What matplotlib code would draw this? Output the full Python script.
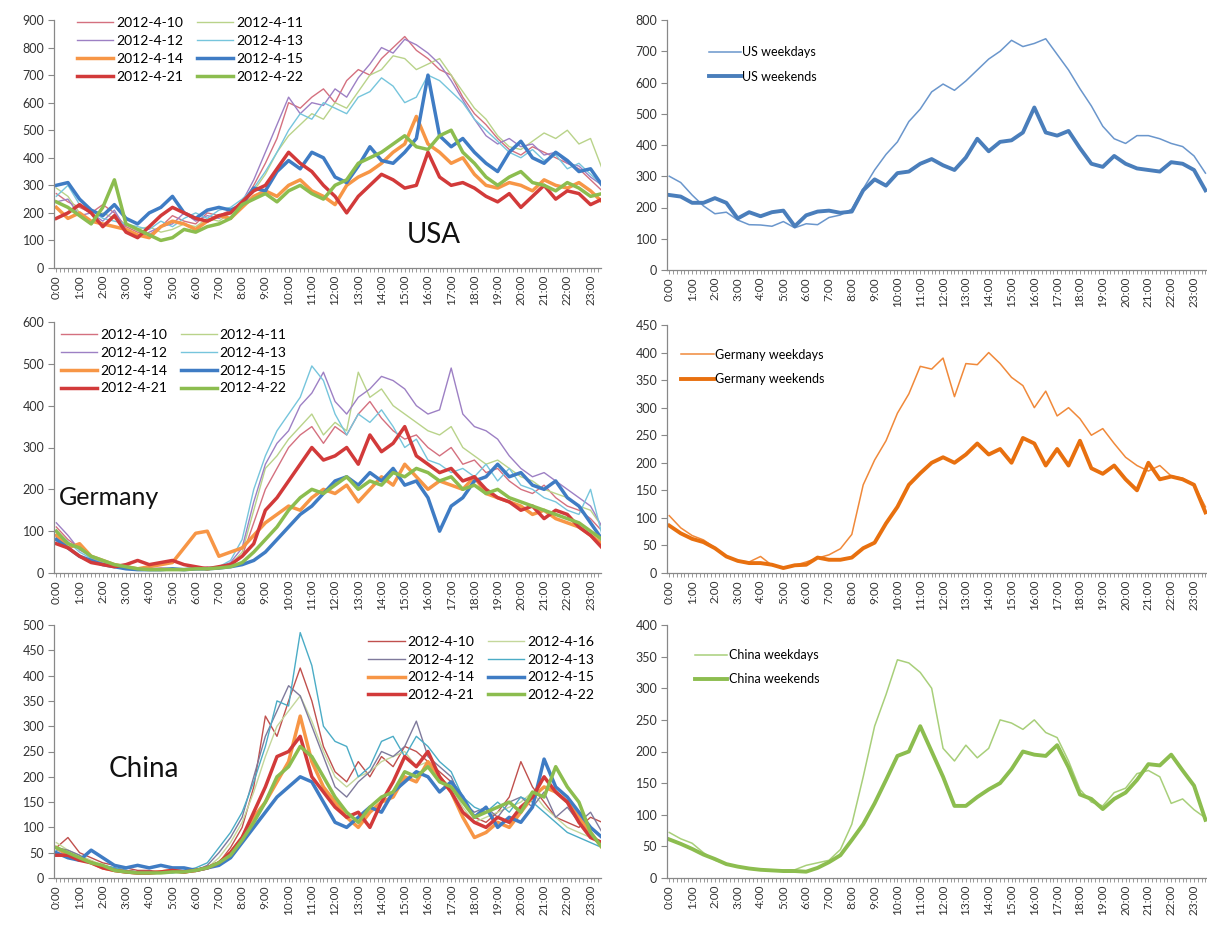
import numpy as np
import matplotlib
matplotlib.use("Agg")
import matplotlib.pyplot as plt
from matplotlib.ticker import MultipleLocator, FixedLocator

plt.rcParams['font.family'] = ['Lato', 'DejaVu Sans']

# ---------------- data (half-hourly samples, 0:00 .. 23:30) ----------------
hour_labels = [f"{h}:00" for h in range(24)]
samples_per_hour = 2

usa_dates = ["2012-4-10", "2012-4-11", "2012-4-12", "2012-4-13",
             "2012-4-14", "2012-4-15", "2012-4-21", "2012-4-22"]
usa_0410 = [270,240,220,200,230,200,150,130,120,150,190,170,160,200,190,210,230,300,380,470,600,580,620,650,
            600,680,720,700,760,800,840,790,760,720,700,620,560,520,470,430,410,440,420,400,380,360,320,280]
usa_0411 = [290,260,200,170,200,180,160,140,150,130,140,160,150,180,170,200,230,280,340,420,480,520,560,540,
            600,580,640,700,720,770,760,720,740,760,700,640,580,540,480,440,430,460,490,470,500,450,470,360]
usa_0412 = [240,250,190,200,170,210,140,110,130,150,160,200,170,190,180,200,240,320,420,520,620,560,600,590,
            650,620,690,740,800,780,830,810,780,740,680,610,540,480,450,470,440,450,410,420,380,370,330,300]
usa_0413 = [260,300,230,210,180,170,160,150,140,170,150,180,200,180,210,220,250,290,350,420,500,560,540,600,
            580,560,620,640,690,660,600,620,700,680,640,600,540,500,460,420,400,430,390,410,360,380,340,300]
usa_0414 = [220,180,200,170,160,150,140,120,110,150,170,160,140,170,190,180,220,260,280,260,300,320,280,260,
            230,300,330,350,380,420,450,550,450,420,380,400,340,300,290,310,300,280,320,300,290,310,280,240]
usa_0415 = [300,310,250,210,190,230,180,160,200,220,260,200,180,210,220,210,230,290,280,350,390,360,420,400,
            330,310,370,440,390,380,420,470,700,480,440,470,420,380,350,420,460,400,380,420,390,350,360,300]
usa_0421 = [180,200,230,200,150,190,130,110,150,190,220,200,180,170,190,200,240,280,300,360,420,380,350,300,
            260,200,260,300,340,320,290,300,420,330,300,310,290,260,240,270,220,260,300,250,280,270,230,250]
usa_0422 = [240,220,190,160,220,320,160,140,120,100,110,140,130,150,160,180,230,250,270,240,280,300,270,250,
            300,320,380,400,420,450,480,440,430,480,500,420,380,330,300,330,350,310,300,280,310,290,260,270]

ger_dates = usa_dates
ger_0410 = [110,80,60,40,30,20,15,10,10,12,10,8,10,15,10,20,40,120,200,250,300,330,350,310,
            350,330,380,410,370,340,320,330,300,280,300,260,270,240,250,220,200,190,210,180,160,150,130,100]
ger_0411 = [100,70,65,35,25,15,12,10,8,10,10,8,8,10,12,20,50,150,250,280,320,350,380,330,
            360,340,480,420,440,400,380,360,340,330,350,300,280,260,270,250,230,220,200,190,180,160,150,110]
ger_0412 = [120,90,55,40,30,20,12,10,10,8,10,10,12,10,15,25,60,170,260,310,340,400,430,480,
            410,380,420,440,470,460,440,400,380,390,490,380,350,340,320,280,250,230,240,220,200,180,160,110]
ger_0413 = [100,75,50,35,25,15,10,8,10,10,8,10,10,12,15,30,80,200,280,340,380,420,495,460,
            380,330,380,360,390,350,300,320,270,260,240,250,230,260,220,250,210,200,180,170,150,140,200,90]
ger_0414 = [90,60,70,40,30,20,15,10,15,20,25,60,95,100,40,50,60,90,120,140,160,150,180,200,
            190,210,170,200,230,210,260,230,200,220,210,200,230,190,180,170,160,140,150,130,120,110,90,70]
ger_0415 = [80,60,40,30,20,15,10,8,8,8,10,8,10,10,12,15,20,30,50,80,110,140,160,190,
            220,230,210,240,220,250,210,220,180,100,160,180,220,230,260,230,240,210,200,220,180,160,120,80]
ger_0421 = [70,60,40,25,20,15,20,30,20,25,30,20,15,10,15,20,40,70,150,180,220,260,300,270,
            280,300,260,330,290,310,350,280,260,240,250,220,230,200,180,170,150,160,130,150,140,110,90,60]
ger_0422 = [100,70,60,40,30,20,15,10,8,8,8,8,10,10,12,15,25,50,80,110,150,180,200,190,
            210,230,200,220,210,240,230,250,240,220,230,200,210,190,200,180,170,160,150,140,130,120,100,80]

chn_dates = ["2012-4-10", "2012-4-16", "2012-4-12", "2012-4-13",
             "2012-4-14", "2012-4-15", "2012-4-21", "2012-4-22"]
chn_0410 = [60,80,50,40,30,25,20,15,15,12,12,10,15,20,30,60,100,180,320,280,350,415,350,260,
            210,190,230,200,240,220,260,250,230,210,190,150,120,110,130,160,230,180,150,120,110,100,120,110]
chn_0416 = [70,55,45,35,25,20,15,12,10,10,12,10,15,20,40,70,110,170,240,300,330,360,310,250,
            200,180,200,210,230,240,250,220,230,200,180,140,110,120,130,140,150,170,140,120,100,90,80,70]
chn_0412 = [60,55,45,30,25,20,15,12,10,10,12,15,15,25,50,80,120,200,280,330,380,360,300,240,
            180,160,190,210,250,240,260,310,240,220,200,150,130,140,120,150,160,140,170,120,140,110,130,90]
chn_0413 = [55,50,40,30,25,20,15,12,10,12,10,15,20,30,60,90,130,190,260,350,340,485,420,300,
            270,260,200,220,270,280,240,280,260,230,210,160,140,130,150,130,160,150,130,110,90,80,70,60]
chn_0414 = [60,45,40,30,20,15,12,10,10,12,15,12,15,20,30,50,80,120,150,190,230,320,230,180,
            150,120,100,130,150,160,200,190,230,200,170,120,80,90,110,100,130,160,180,170,150,120,90,60]
chn_0415 = [50,40,35,55,40,25,20,25,20,25,20,20,15,20,25,40,70,100,130,160,180,200,190,150,
            110,100,120,140,130,170,190,210,200,170,190,160,120,140,100,120,110,140,235,180,160,130,100,80]
chn_0421 = [45,45,35,30,20,15,12,10,10,12,15,12,15,20,30,50,80,130,180,240,250,280,200,170,
            140,120,130,100,150,190,240,220,250,200,170,130,110,100,120,110,140,160,200,170,150,110,80,70]
chn_0422 = [60,50,40,30,25,15,12,10,10,10,12,12,15,20,30,45,75,110,150,200,220,260,240,200,
            160,130,110,140,160,170,210,200,220,190,180,150,120,130,140,150,130,170,160,220,180,150,90,60]

us_weekdays = [300,280,240,205,180,185,160,145,144,140,155,135,148,145,168,176,195,260,320,370,410,475,515,570,
               595,575,605,640,675,700,735,715,725,740,690,640,580,525,460,420,405,430,430,420,405,395,365,310]
us_weekends = [240,235,215,215,230,215,165,185,172,185,190,140,175,187,190,183,187,255,290,270,310,315,340,355,
               335,320,360,420,380,410,415,440,520,440,430,445,390,340,330,365,340,325,320,315,345,340,320,255]
de_weekdays = [104,82,68,60,46,30,22,20,30,14,10,14,20,27,33,44,70,160,205,240,290,325,375,370,
               390,320,380,378,400,380,355,340,300,330,285,300,280,250,262,235,210,195,185,195,176,172,160,120]
de_weekends = [86,72,62,56,45,30,22,18,18,15,9,14,15,28,24,24,28,45,55,90,120,160,181,200,
               210,200,215,235,215,225,200,245,235,195,225,195,240,190,180,195,170,150,200,170,175,170,160,110]
cn_weekdays = [72,62,55,40,28,22,18,15,13,13,13,13,20,24,28,45,85,160,240,290,345,340,325,300,
               205,185,210,190,205,250,245,235,250,230,222,185,140,120,114,135,142,165,170,160,118,125,108,95]
cn_weekends = [61,54,46,37,30,22,18,15,13,12,11,11,10,16,25,36,60,85,118,155,193,200,240,200,
               160,114,114,128,140,150,172,200,195,193,210,175,132,125,109,125,135,155,180,178,195,170,146,92]

# ---------------- styles ----------------
left_colors = ["#d4707f", "#b9d38a", "#9d80c4", "#76c5dc", "#f79646", "#3f7cc4", "#d23a3a", "#8cbd4f"]
chn_colors = ["#c0504d", "#c4d79b", "#7f7a9c", "#4bacc6", "#f79646", "#3f7cc4", "#d23a3a", "#8cbd4f"]
left_lw = [1.0, 1.0, 1.0, 1.0, 2.5, 2.5, 2.5, 2.5]

W, H = 1207, 927
fig = plt.figure(figsize=(W / 100, H / 100), dpi=100)

def ax_at(x0, x1, y0, y1):
    return fig.add_axes([x0 / W, 1 - y1 / H, (x1 - x0) / W, (y1 - y0) / H])

TICK_COLOR = "#333333"
AXIS_COLOR = "#888888"

def style(ax, ymax, ystep, xmax):
    ax.set_xlim(-0.1, xmax)
    ax.set_ylim(0, ymax)
    ax.yaxis.set_major_locator(MultipleLocator(ystep))
    ax.xaxis.set_major_locator(FixedLocator(range(len(hour_labels))))
    ax.set_xticklabels(hour_labels, rotation=90, fontsize=8.5, color=TICK_COLOR)
    ax.xaxis.set_minor_locator(MultipleLocator(1 / 6))
    ax.tick_params(axis='x', which='both', length=3, width=0.6, color=AXIS_COLOR, pad=2)
    ax.tick_params(axis='y', length=4, width=0.8, color=AXIS_COLOR, labelsize=9, labelcolor=TICK_COLOR, pad=3)
    for s in ("top", "right"):
        ax.spines[s].set_visible(False)
    for s in ("left", "bottom"):
        ax.spines[s].set_color(AXIS_COLOR)
        ax.spines[s].set_linewidth(0.9)

def left_panel(ax, series, labels, colors, ymax, ystep, legend_kw):
    x = np.arange(len(series[0])) / samples_per_hour
    handles = []
    for vals, lab, c, lw in zip(series, labels, colors, left_lw):
        h, = ax.plot(x, vals, color=c, lw=lw, label=lab)
        handles.append(h)
    style(ax, ymax, ystep, 23.45)
    order = [0, 2, 4, 6, 1, 3, 5, 7]
    ax.legend([handles[i] for i in order], [labels[i] for i in order], ncol=2, frameon=False,
              fontsize=10, handlelength=2.6, handletextpad=0.2, labelspacing=0.42,
              columnspacing=1.0, borderpad=0, **legend_kw)

def right_panel(ax, wd, we, labels, c_wd, c_we, ymax, ystep, legend_kw):
    x = np.arange(len(wd)) / samples_per_hour
    ax.plot(x, wd, color=c_wd, lw=1.1, label=labels[0])
    ax.plot(x, we, color=c_we, lw=2.8, label=labels[1])
    style(ax, ymax, ystep, 23.7)
    ax.legend(frameon=False, fontsize=9, handlelength=2.6, handletextpad=0.1, labelspacing=1.0,
              borderpad=0, **legend_kw)

# USA
ax1 = ax_at(54, 601, 20, 268)
left_panel(ax1, [usa_0410, usa_0411, usa_0412, usa_0413, usa_0414, usa_0415, usa_0421, usa_0422],
           usa_dates, left_colors, 900, 100, dict(loc="upper left", bbox_to_anchor=(0.03, 1.04)))
ax1.text(0.695, 0.135, "USA", transform=ax1.transAxes, fontsize=20, ha="center", va="center", color="#111111")

# Germany
ax3 = ax_at(54, 601, 322, 573)
left_panel(ax3, [ger_0410, ger_0411, ger_0412, ger_0413, ger_0414, ger_0415, ger_0421, ger_0422],
           ger_dates, left_colors, 600, 100, dict(loc="upper left", bbox_to_anchor=(0.0, 1.0)))
ax3.text(0.10, 0.30, "Germany", transform=ax3.transAxes, fontsize=18, ha="center", va="center", color="#111111")

# China
ax5 = ax_at(54, 601, 625, 878)
left_panel(ax5, [chn_0410, chn_0416, chn_0412, chn_0413, chn_0414, chn_0415, chn_0421, chn_0422],
           chn_dates, chn_colors, 500, 50, dict(loc="upper right", bbox_to_anchor=(1.0, 0.985)))
ax5.text(0.165, 0.43, "China", transform=ax5.transAxes, fontsize=20, ha="center", va="center", color="#111111")

# Right column
ax2 = ax_at(667, 1210, 20, 270)
right_panel(ax2, us_weekdays, us_weekends, ["US weekdays", "US weekends"], "#6a96cc", "#4a7ebb",
            800, 100, dict(loc="upper left", bbox_to_anchor=(0.065, 0.92)))
ax4 = ax_at(667, 1210, 325, 573)
right_panel(ax4, de_weekdays, de_weekends, ["Germany weekdays", "Germany weekends"], "#f0893a", "#e8700f",
            450, 50, dict(loc="upper left", bbox_to_anchor=(0.015, 0.93)))
ax6 = ax_at(667, 1210, 625, 878)
right_panel(ax6, cn_weekdays, cn_weekends, ["China weekdays", "China weekends"], "#a8cf7a", "#8cbd4f",
            400, 50, dict(loc="upper left", bbox_to_anchor=(0.04, 0.93)))

fig.savefig("out.png", dpi=100)
